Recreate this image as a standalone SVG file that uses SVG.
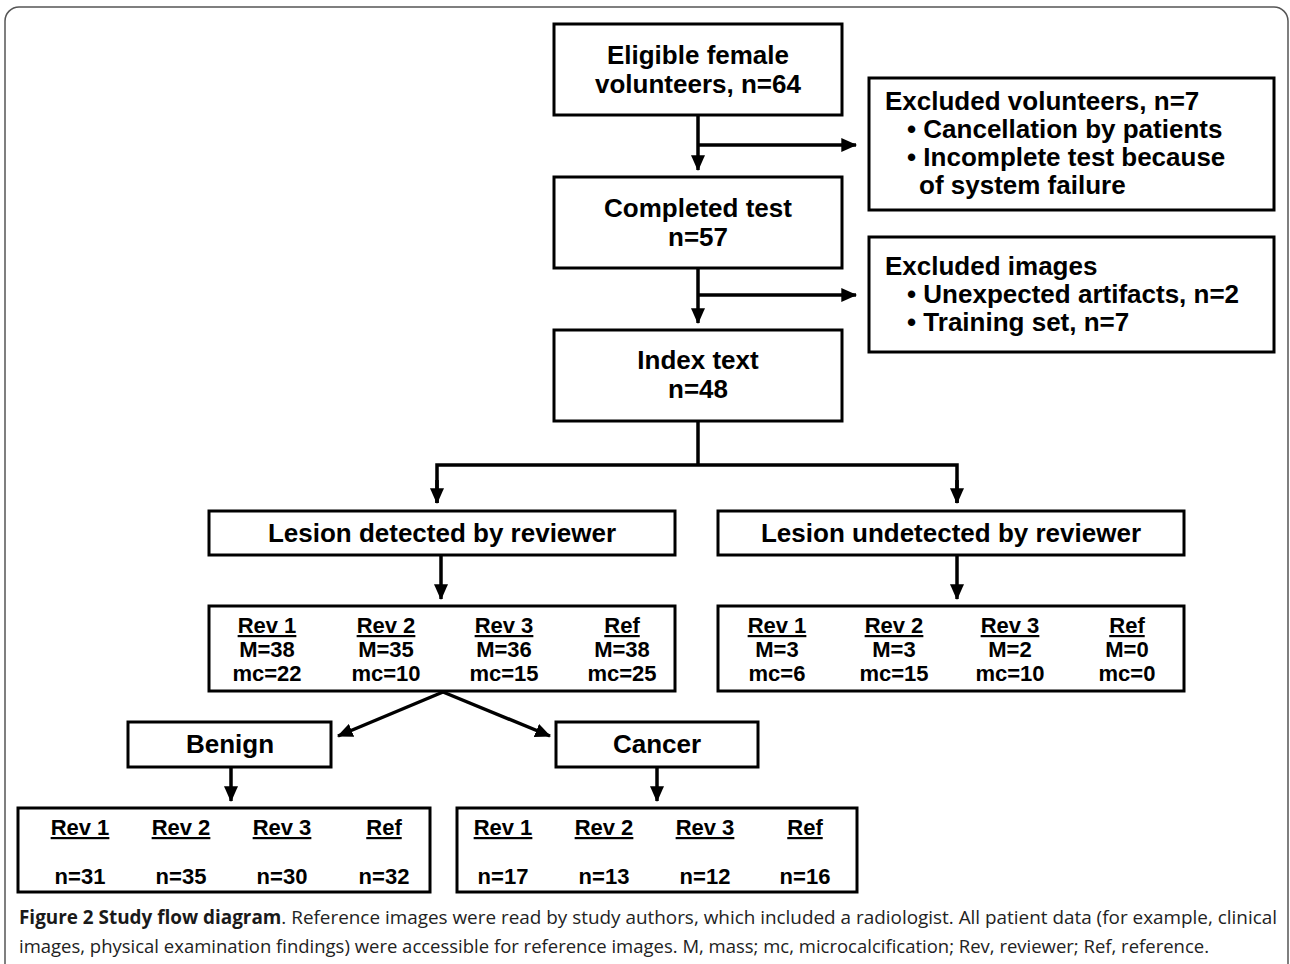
<svg xmlns="http://www.w3.org/2000/svg" width="1290" height="964" viewBox="0 0 1290 964">
<defs>
<marker id="ah" markerWidth="5" markerHeight="4" refX="4.2" refY="2" orient="auto" markerUnits="strokeWidth"><path d="M0,0 L4.5,2 L0,4 Z" fill="#000"/></marker>
<style>
.box{fill:#fff;stroke:#000;stroke-width:3}
.t{font-family:"Liberation Sans",Arial,sans-serif;font-weight:bold;font-size:26px;fill:#000}
.c{text-anchor:middle}
.d{font-family:"Liberation Sans",Arial,sans-serif;font-weight:bold;font-size:22px;fill:#000;text-anchor:middle}
.u{text-decoration:underline}
.con{stroke:#000;stroke-width:3.5;fill:none}
.cap{font-family:"Open Sans","Liberation Sans",sans-serif;font-size:19px;fill:#222}
</style>
</defs>
<rect width="1290" height="964" fill="#fff"/>
<rect x="5" y="7" width="1283" height="1000" rx="14" fill="none" stroke="#555" stroke-width="1.5"/>

<g id="connectors">
<line class="con" x1="698" y1="115" x2="698" y2="170" marker-end="url(#ah)"/>
<line class="con" x1="698" y1="145" x2="856" y2="145" marker-end="url(#ah)"/>
<line class="con" x1="698" y1="268" x2="698" y2="323" marker-end="url(#ah)"/>
<line class="con" x1="698" y1="295" x2="856" y2="295" marker-end="url(#ah)"/>
<line class="con" x1="698" y1="421" x2="698" y2="465"/>
<polyline class="con" points="437,503 437,465 957,465 957,503"/>
<line class="con" x1="437" y1="480" x2="437" y2="503" marker-end="url(#ah)"/>
<line class="con" x1="957" y1="480" x2="957" y2="503" marker-end="url(#ah)"/>
<line class="con" x1="441" y1="555" x2="441" y2="599" marker-end="url(#ah)"/>
<line class="con" x1="957" y1="555" x2="957" y2="599" marker-end="url(#ah)"/>
<line class="con" x1="443" y1="692" x2="338" y2="736" marker-end="url(#ah)"/>
<line class="con" x1="443" y1="692" x2="550" y2="736" marker-end="url(#ah)"/>
<line class="con" x1="231" y1="767" x2="231" y2="801" marker-end="url(#ah)"/>
<line class="con" x1="657" y1="767" x2="657" y2="801" marker-end="url(#ah)"/>
</g>

<g id="eligible">
<rect class="box" x="554" y="24" width="288" height="91"/>
<text class="t c" x="698" y="64">Eligible female</text>
<text class="t c" x="698" y="93">volunteers, n=64</text>
</g>
<g id="excluded-volunteers">
<rect class="box" x="869" y="78" width="405" height="132"/>
<text class="t" x="885" y="110">Excluded volunteers, n=7</text>
<text class="t" x="907" y="138">• Cancellation by patients</text>
<text class="t" x="907" y="166">• Incomplete test because</text>
<text class="t" x="919" y="194">of system failure</text>
</g>
<g id="completed">
<rect class="box" x="554" y="177" width="288" height="91"/>
<text class="t c" x="698" y="217">Completed test</text>
<text class="t c" x="698" y="246">n=57</text>
</g>
<g id="excluded-images">
<rect class="box" x="869" y="237" width="405" height="115"/>
<text class="t" x="885" y="275">Excluded images</text>
<text class="t" x="907" y="303">• Unexpected artifacts, n=2</text>
<text class="t" x="907" y="331">• Training set, n=7</text>
</g>
<g id="index">
<rect class="box" x="554" y="330" width="288" height="91"/>
<text class="t c" x="698" y="369">Index text</text>
<text class="t c" x="698" y="398">n=48</text>
</g>
<g id="detected">
<rect class="box" x="209" y="511" width="466" height="44"/>
<text class="t c" x="442" y="542">Lesion detected by reviewer</text>
</g>
<g id="undetected">
<rect class="box" x="718" y="511" width="466" height="44"/>
<text class="t c" x="951" y="542">Lesion undetected by reviewer</text>
</g>
<g id="detected-data">
<rect class="box" x="209" y="606" width="466" height="85"/>
<text class="d u" x="267" y="633">Rev 1</text><text class="d" x="267" y="657">M=38</text><text class="d" x="267" y="681">mc=22</text>
<text class="d u" x="386" y="633">Rev 2</text><text class="d" x="386" y="657">M=35</text><text class="d" x="386" y="681">mc=10</text>
<text class="d u" x="504" y="633">Rev 3</text><text class="d" x="504" y="657">M=36</text><text class="d" x="504" y="681">mc=15</text>
<text class="d u" x="622" y="633">Ref</text><text class="d" x="622" y="657">M=38</text><text class="d" x="622" y="681">mc=25</text>
</g>
<g id="undetected-data">
<rect class="box" x="718" y="606" width="466" height="85"/>
<text class="d u" x="777" y="633">Rev 1</text><text class="d" x="777" y="657">M=3</text><text class="d" x="777" y="681">mc=6</text>
<text class="d u" x="894" y="633">Rev 2</text><text class="d" x="894" y="657">M=3</text><text class="d" x="894" y="681">mc=15</text>
<text class="d u" x="1010" y="633">Rev 3</text><text class="d" x="1010" y="657">M=2</text><text class="d" x="1010" y="681">mc=10</text>
<text class="d u" x="1127" y="633">Ref</text><text class="d" x="1127" y="657">M=0</text><text class="d" x="1127" y="681">mc=0</text>
</g>
<g id="benign">
<rect class="box" x="128" y="722" width="203" height="45"/>
<text class="t c" x="230" y="753">Benign</text>
</g>
<g id="cancer">
<rect class="box" x="556" y="722" width="202" height="45"/>
<text class="t c" x="657" y="753">Cancer</text>
</g>
<g id="benign-data">
<rect class="box" x="18" y="808" width="412" height="84"/>
<text class="d u" x="80" y="835">Rev 1</text><text class="d" x="80" y="884">n=31</text>
<text class="d u" x="181" y="835">Rev 2</text><text class="d" x="181" y="884">n=35</text>
<text class="d u" x="282" y="835">Rev 3</text><text class="d" x="282" y="884">n=30</text>
<text class="d u" x="384" y="835">Ref</text><text class="d" x="384" y="884">n=32</text>
</g>
<g id="cancer-data">
<rect class="box" x="457" y="808" width="400" height="84"/>
<text class="d u" x="503" y="835">Rev 1</text><text class="d" x="503" y="884">n=17</text>
<text class="d u" x="604" y="835">Rev 2</text><text class="d" x="604" y="884">n=13</text>
<text class="d u" x="705" y="835">Rev 3</text><text class="d" x="705" y="884">n=12</text>
<text class="d u" x="805" y="835">Ref</text><text class="d" x="805" y="884">n=16</text>
</g>
<g id="caption">
<text class="cap" x="19" y="924" textLength="1258" lengthAdjust="spacingAndGlyphs"><tspan font-weight="bold" fill="#1a1a1a">Figure 2 Study flow diagram</tspan>. Reference images were read by study authors, which included a radiologist. All patient data (for example, clinical</text>
<text class="cap" x="19" y="953" textLength="1190" lengthAdjust="spacingAndGlyphs">images, physical examination findings) were accessible for reference images. M, mass; mc, microcalcification; Rev, reviewer; Ref, reference.</text>
</g>
</svg>
